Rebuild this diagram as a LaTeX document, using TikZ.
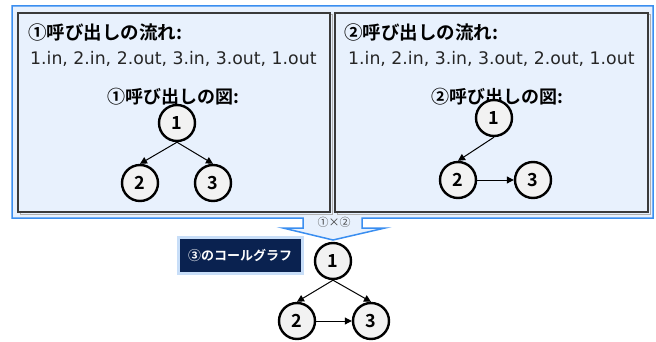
\documentclass[tikz,border=0pt]{standalone}
\usepackage{fontspec}
\setmainfont{Noto Sans CJK JP}[BoldFont={Noto Sans CJK JP Bold}]
\newfontfamily\seqfont{DejaVu Sans}
\usetikzlibrary{arrows.meta}
\definecolor{panelfill}{HTML}{E8F1FD}
\definecolor{calloutblue}{HTML}{3A8EF0}
\definecolor{navybox}{HTML}{0A2250}
\definecolor{glow}{HTML}{C8DEF8}
\definecolor{circfill}{HTML}{F2F2F2}
\definecolor{paneledge}{HTML}{3A3A3A}
\begin{document}
\begin{tikzpicture}[x=1pt,y=-1pt,
  panel/.style={draw=paneledge,line width=1.8pt,fill=panelfill},
  ttl/.style={anchor=west,inner sep=0pt,font=\fontsize{18.5}{20}\selectfont\bfseries},
  seq/.style={anchor=west,inner sep=0pt,font=\seqfont\fontsize{17.3}{20}\selectfont,text=black!85},
  sub/.style={inner sep=0pt,font=\fontsize{18}{20}\selectfont\bfseries},
  cnode/.style={circle,draw=black,line width=2.4pt,fill=circfill,minimum size=36pt,inner sep=0pt,font=\fontsize{18}{20}\selectfont\bfseries},
  conn/.style={-{Triangle[length=7pt,width=7pt]},line width=1pt,black}
]
\useasboundingbox (0,0) rectangle (656,342);
% callout background
\draw[fill=panelfill,draw=calloutblue,line width=1.5pt]
  (12,6) -- (653,6) -- (653,218) -- (362,218) -- (362,228) -- (385,228) -- (333,240)
  -- (283,228) -- (303,228) -- (303,218) -- (12,218) -- cycle;
% panels
\draw[paneledge!40,line width=1pt] (20,15) rectangle (332,214);
\draw[panel] (18,13) rectangle (330,212);
\draw[paneledge!40,line width=1pt] (337,15) rectangle (650,214);
\draw[panel] (335,13) rectangle (648,212);
% panel 1 text
\node[ttl] (t1) at (28,32) {①呼び出しの流れ:};
\node[seq] (s1) at (30,59) {1.in, 2.in, 2.out, 3.in, 3.out, 1.out};
\node[sub] (f1) at (173,97) {①呼び出しの図:};
\node[cnode] (a1) at (177,123) {1};
\node[cnode] (a2) at (140,183) {2};
\node[cnode] (a3) at (213,183) {3};
\draw[conn] (a1.south) -- (a2.north);
\draw[conn] (a1.south) -- (a3.north);
% panel 2 text
\node[ttl] (t2) at (344,32) {②呼び出しの流れ:};
\node[seq] (s2) at (348,59) {1.in, 2.in, 3.in, 3.out, 2.out, 1.out};
\node[sub] (f2) at (497,97) {②呼び出しの図:};
\node[cnode] (b1) at (494,118) {1};
\node[cnode] (b2) at (458,180) {2};
\node[cnode] (b3) at (533,180) {3};
\draw[conn] (b1.south) -- (b2.north);
\draw[conn] (b2) -- (b3);
% callout label
\node[inner sep=0pt,font=\fontsize{11}{12}\selectfont,text=black!75] (x) at (334,222) {①×②};
% bottom
\node[fill=navybox,draw=glow,line width=3pt,minimum width=124pt,minimum height=36pt,inner sep=0pt,
  text=white,font=\fontsize{13}{15}\selectfont\bfseries] (lab) at (240,255) {③のコールグラフ};
\node[cnode] (c1) at (333,261) {1};
\node[cnode] (c2) at (297,321) {2};
\node[cnode] (c3) at (371,321) {3};
\draw[conn] (c1.south) -- (c2.north);
\draw[conn] (c1.south) -- (c3.north);
\draw[conn] (c2) -- (c3);
\end{tikzpicture}
\end{document}
